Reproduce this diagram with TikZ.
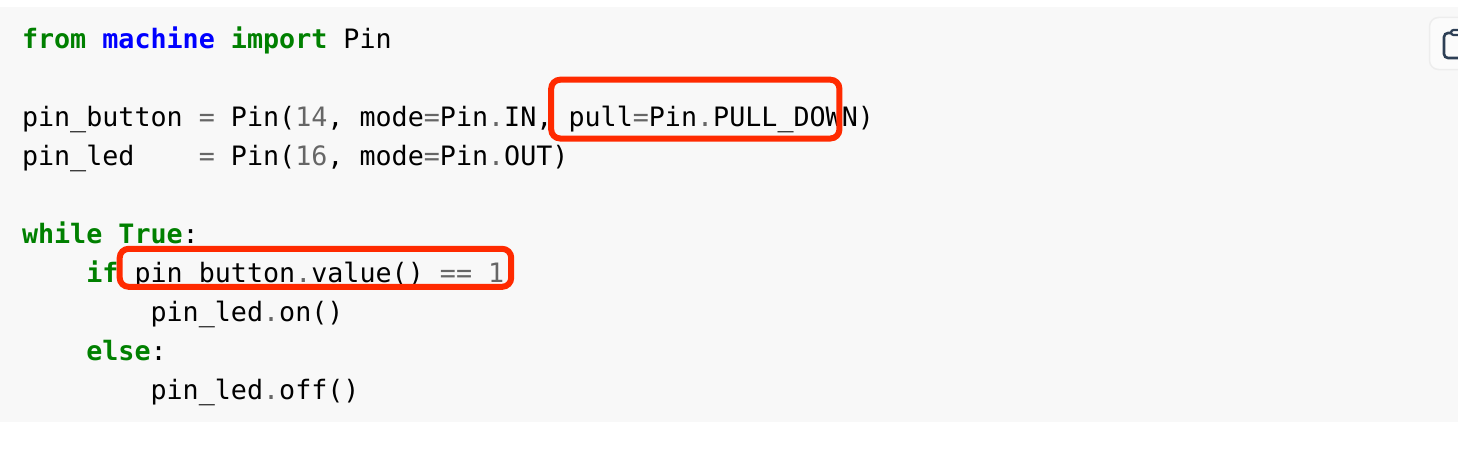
\documentclass[tikz,border=0pt]{standalone}
\usepackage{fontspec}
\newfontfamily\codefont{DejaVu Sans Mono}
\definecolor{bgcode}{HTML}{F8F8F8}
\definecolor{kwgreen}{HTML}{008000}
\definecolor{kwblue}{HTML}{0000FF}
\definecolor{opgray}{HTML}{666666}
\definecolor{redbox}{HTML}{FF2A00}
\definecolor{iconink}{HTML}{2D3F55}
\newcommand{\kw}[1]{\textcolor{kwgreen}{\bfseries #1}}
\newcommand{\op}[1]{\textcolor{opgray}{#1}}
\tikzset{
  codeline/.style={anchor=base west,inner sep=0pt,outer sep=0pt,text=black,
    font=\codefont\fontsize{26.7}{30}\selectfont},
  redmark/.style={draw=redbox,line width=6pt,rounded corners=9pt}
}
\begin{document}
\begin{tikzpicture}[x=1pt,y=-1pt]
\useasboundingbox (0,0) rectangle (1458,452);
\fill[bgcode] (0,7) rectangle (1458,421.5);
% copy button
\draw[draw=black!7,line width=1.5pt,fill=white!50!bgcode,rounded corners=9pt] (1429.5,17.5) -- (1470,17.5) -- (1470,69.5) -- (1429.5,69.5) -- cycle;
\draw[iconink,line width=2.6pt,rounded corners=4pt] (1456,33) -- (1444,33) -- (1444,58) -- (1470,58);
\draw[iconink,line width=2.2pt,fill=white!50!bgcode,rounded corners=2.5pt] (1451,30) rectangle (1470,35);
% code
\node[codeline] (l1) at (22,48.3) {\kw{from} \textcolor{kwblue}{\bfseries machine} \kw{import} Pin};
\node[codeline] (l2) at (22,126) {pin\_button \op{=} Pin(\op{14}, mode\op{=}Pin\op{.}IN, pull\op{=}Pin\op{.}PULL\_DOWN)};
\node[codeline] (l3) at (22,165) {pin\_led\ \ \ \ \op{=} Pin(\op{16}, mode\op{=}Pin\op{.}OUT)};
\node[codeline] (l4) at (22,243) {\kw{while} \kw{True}:};
\node[codeline] (l5) at (22,282) {\ \ \ \ \kw{if} pin\_button\op{.}value() \op{==} \op{1}};
\node[codeline] (l6) at (22,321) {\ \ \ \ \ \ \ \ pin\_led\op{.}on()};
\node[codeline] (l7) at (22,360) {\ \ \ \ \kw{else}:};
\node[codeline] (l8) at (22,399) {\ \ \ \ \ \ \ \ pin\_led\op{.}off()};
% highlights
\draw[redmark] (551.2,79.7) rectangle (839.4,138.5);
\draw[redmark] (119.7,248.8) rectangle (511.2,286.8);
\end{tikzpicture}
\end{document}
